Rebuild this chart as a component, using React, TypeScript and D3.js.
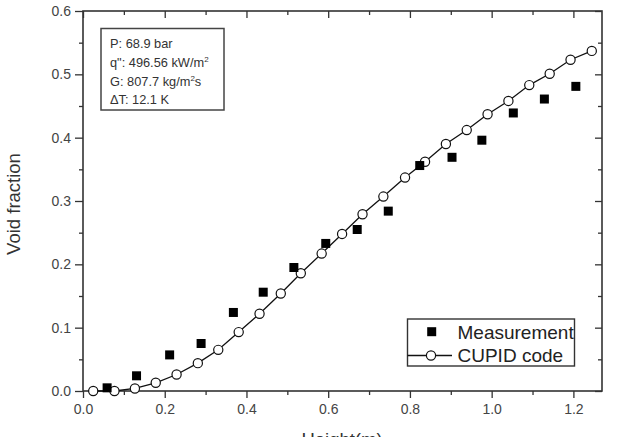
import { axisBottom, axisLeft, line, range, scaleLinear, select } from "d3";
import { useEffect, useRef } from "react";

// measurement (squares)
const measX = [0.059, 0.131, 0.212, 0.289, 0.368, 0.441, 0.516, 0.594, 0.671, 0.747, 0.824, 0.903, 0.976, 1.053, 1.129, 1.206];
const measY = [0.005, 0.024, 0.057, 0.075, 0.124, 0.156, 0.195, 0.233, 0.255, 0.284, 0.356, 0.369, 0.396, 0.439, 0.461, 0.481];

// CUPID code (open circles + line)
const cupidX = [0.025, 0.077, 0.127, 0.178, 0.229, 0.281, 0.331, 0.381, 0.432, 0.484, 0.533, 0.584, 0.634, 0.684, 0.735, 0.788, 0.837, 0.888, 0.939, 0.99, 1.041, 1.092, 1.142, 1.193, 1.245];
const cupidY = [0.0, 0.0, 0.004, 0.013, 0.026, 0.044, 0.065, 0.093, 0.122, 0.154, 0.186, 0.217, 0.248, 0.279, 0.307, 0.337, 0.362, 0.39, 0.412, 0.437, 0.458, 0.483, 0.501, 0.523, 0.537];

const xTicks = [0, 0.2, 0.4, 0.6, 0.8, 1.0, 1.2];
const yTicks = [0, 0.1, 0.2, 0.3, 0.4, 0.5, 0.6];

const W = 618;
const H = 437;
const m = { left: 83, right: 602, top: 11, bottom: 391 };
const FONT = "'Liberation Sans', Arial, sans-serif";
const AX = "#333";

function App() {
    const svgRef = useRef(null);

    useEffect(() => {
        const svg: any = select(svgRef.current);
        svg.selectAll("*").remove();

        const x = scaleLinear().domain([0, 1.27]).range([m.left, m.right]);
        const y = scaleLinear().domain([0, 0.6]).range([m.bottom, m.top]);

        const xMinor = range(0.1, 1.27, 0.2);
        const yMinor = range(0.05, 0.6, 0.1);

        const styleAxis = (g: any) => {
            g.select(".domain").remove();
            g.selectAll("line").attr("stroke", AX).attr("stroke-width", 1.3);
            g.selectAll("text")
                .attr("fill", "#444")
                .style("font-family", FONT)
                .style("font-size", "14px");
        };

        // bottom
        svg.append("g")
            .attr("transform", `translate(0,${m.bottom})`)
            .call(axisBottom(x).tickValues(xTicks).tickSize(7).tickPadding(6).tickFormat((d: any) => d.toFixed(1)))
            .call(styleAxis);
        svg.append("g")
            .attr("transform", `translate(0,${m.bottom})`)
            .call(axisBottom(x).tickValues(xMinor).tickSize(4).tickFormat(() => ""))
            .call(styleAxis);
        // top (ticks pointing in)
        svg.append("g")
            .attr("transform", `translate(0,${m.top})`)
            .call(axisBottom(x).tickValues(xTicks).tickSize(7).tickFormat(() => ""))
            .call(styleAxis);
        svg.append("g")
            .attr("transform", `translate(0,${m.top})`)
            .call(axisBottom(x).tickValues(xMinor).tickSize(4).tickFormat(() => ""))
            .call(styleAxis);
        // left
        svg.append("g")
            .attr("transform", `translate(${m.left},0)`)
            .call(axisLeft(y).tickValues(yTicks).tickSize(8).tickPadding(4).tickFormat((d: any) => d.toFixed(1)))
            .call(styleAxis);
        svg.append("g")
            .attr("transform", `translate(${m.left},0)`)
            .call(axisLeft(y).tickValues(yMinor).tickSize(4).tickFormat(() => ""))
            .call(styleAxis);
        // right (ticks pointing in)
        svg.append("g")
            .attr("transform", `translate(${m.right},0)`)
            .call(axisLeft(y).tickValues(yTicks).tickSize(7).tickFormat(() => ""))
            .call(styleAxis);
        svg.append("g")
            .attr("transform", `translate(${m.right},0)`)
            .call(axisLeft(y).tickValues(yMinor).tickSize(4).tickFormat(() => ""))
            .call(styleAxis);

        // frame
        svg.append("rect")
            .attr("x", m.left)
            .attr("y", m.top)
            .attr("width", m.right - m.left)
            .attr("height", m.bottom - m.top)
            .attr("fill", "none")
            .attr("stroke", AX)
            .attr("stroke-width", 1.6);

        // CUPID line
        const pts = cupidX.map((v, i) => [v, cupidY[i]]);
        svg.append("path")
            .datum(pts)
            .attr("fill", "none")
            .attr("stroke", "#111")
            .attr("stroke-width", 1.3)
            .attr("d", line().x((d: any) => x(d[0])).y((d: any) => y(d[1])));

        svg.append("g")
            .selectAll("circle")
            .data(pts)
            .enter()
            .append("circle")
            .attr("cx", (d: any) => x(d[0]))
            .attr("cy", (d: any) => y(d[1]))
            .attr("r", 4.6)
            .attr("fill", "#fff")
            .attr("stroke", "#111")
            .attr("stroke-width", 1.2);

        // measurement squares
        const sq = 9;
        svg.append("g")
            .selectAll("rect")
            .data(measX.map((v, i) => [v, measY[i]]))
            .enter()
            .append("rect")
            .attr("x", (d: any) => x(d[0]) - sq / 2)
            .attr("y", (d: any) => y(d[1]) - sq / 2)
            .attr("width", sq)
            .attr("height", sq)
            .attr("fill", "#000");

        // axis titles
        svg.append("text")
            .attr("transform", `translate(20,204) rotate(-90)`)
            .attr("text-anchor", "middle")
            .attr("fill", "#333")
            .style("font-family", FONT)
            .style("font-size", "18.5px")
            .text("Void fraction");
        svg.append("text")
            .attr("x", 342)
            .attr("y", 446)
            .attr("text-anchor", "middle")
            .attr("fill", "#333")
            .style("font-family", FONT)
            .style("font-size", "18.5px")
            .text("Height(m)");

        // info box
        const info = svg.append("g").style("font-family", FONT).style("font-size", "12.8px").attr("fill", "#333");
        info.append("rect")
            .attr("x", 101)
            .attr("y", 28.5)
            .attr("width", 123)
            .attr("height", 81.5)
            .attr("fill", "#fff")
            .attr("stroke", "#444")
            .attr("stroke-width", 1.5);
        info.append("text").attr("x", 110).attr("y", 47.5).text("P: 68.9 bar");
        const t2 = info.append("text").attr("x", 110).attr("y", 66.5);
        t2.append("tspan").text("q\": 496.56 kW/m");
        t2.append("tspan").attr("dy", -5).style("font-size", "8px").text("2");
        const t3 = info.append("text").attr("x", 110).attr("y", 85.5);
        t3.append("tspan").text("G: 807.7 kg/m");
        t3.append("tspan").attr("dy", -5).style("font-size", "8px").text("2");
        t3.append("tspan").attr("dy", 5).text("s");
        info.append("text").attr("x", 110).attr("y", 104).text("\u0394T: 12.1 K");

        // legend
        const lg = svg.append("g").style("font-family", FONT).style("font-size", "19px").attr("fill", "#222");
        lg.append("rect")
            .attr("x", 407.5)
            .attr("y", 319)
            .attr("width", 167)
            .attr("height", 47)
            .attr("fill", "#fff")
            .attr("stroke", "#333")
            .attr("stroke-width", 1.4);
        lg.append("rect").attr("x", 431.7 - sq / 2).attr("y", 331.7 - sq / 2).attr("width", sq).attr("height", sq).attr("fill", "#000");
        lg.append("text").attr("x", 457.5).attr("y", 338.5).text("Measurement");
        lg.append("line").attr("x1", 407.5).attr("x2", 452).attr("y1", 355.5).attr("y2", 355.5).attr("stroke", "#111").attr("stroke-width", 1.3);
        lg.append("circle").attr("cx", 431).attr("cy", 355.5).attr("r", 4.6).attr("fill", "#fff").attr("stroke", "#111").attr("stroke-width", 1.2);
        lg.append("text").attr("x", 457.5).attr("y", 362).text("CUPID code");
    }, []);

    return (
        <svg
            ref={svgRef}
            width={W}
            height={H}
            style={{ position: "absolute", left: 0, top: 0, background: "#fff" }}
        />
    );
}

export default App;
